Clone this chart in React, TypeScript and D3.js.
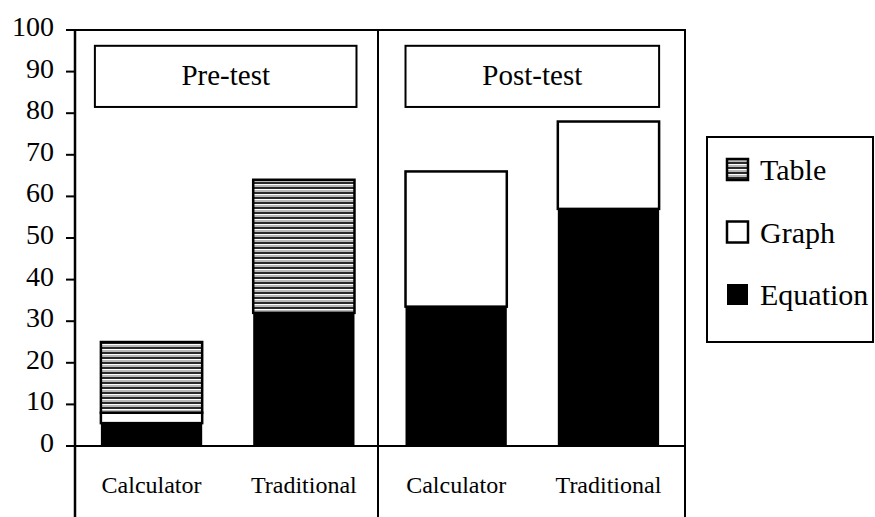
import React from "react";
import * as d3 from "d3";

// phases and groups
const phases = ["Pre-test", "Post-test"];
const groups = ["Calculator", "Traditional"];

// stacked values per bar (Pre Calc, Pre Trad, Post Calc, Post Trad)
const equationValues = [5.5, 32, 33.5, 57];
const graphValues = [2.5, 0, 32.5, 21];
const tableValues = [17, 32, 0, 0];

const yTicks = [0, 10, 20, 30, 40, 50, 60, 70, 80, 90, 100];
const legendItems = ["Table", "Graph", "Equation"];

const W = 875;
const H = 517;
const font = "Liberation Serif, Times New Roman, Times, DejaVu Serif, serif";

export default function App() {
  const left = 75;
  const right = 685;
  const top = 30;
  const base = 446;

  const keys = phases.flatMap((p) => groups.map((g) => `${p}|${g}`));
  const x = d3.scaleBand<string>().domain(keys).range([left, right]).paddingInner(0.335).paddingOuter(0.17);
  const y = d3.scaleLinear().domain([0, 100]).range([base, top]);
  const bw = x.bandwidth();
  const mid = 378;

  const rows = keys.map((k, i) => ({
    key: k,
    group: k.split("|")[1],
    segs: [
      { name: "Equation", v0: 0, v1: equationValues[i] },
      { name: "Graph", v0: equationValues[i], v1: equationValues[i] + graphValues[i] },
      {
        name: "Table",
        v0: equationValues[i] + graphValues[i],
        v1: equationValues[i] + graphValues[i] + tableValues[i],
      },
    ].filter((s) => s.v1 > s.v0),
  }));

  const fillFor = (n: string) => (n === "Equation" ? "#000" : n === "Graph" ? "#fff" : "url(#hatch)");
  const ts: React.CSSProperties = { fontFamily: font };

  return (
    <div style={{ position: "fixed", left: 0, top: 0, background: "#fff" }}>
      <svg width={W} height={H} style={{ display: "block", fontFamily: font }}>
        <defs>
          <pattern id="hatch" width={6} height={5} patternUnits="userSpaceOnUse">
            <rect width={6} height={5} fill="#fff" />
            <rect y={0} width={6} height={2} fill="#b8b8b8" />
            <rect y={2} width={6} height={2} fill="#2a2a2a" />
          </pattern>
        </defs>
        <rect width={W} height={H} fill="#fff" />

        {/* bars */}
        {rows.map((r) => (
          <g key={r.key}>
            {r.segs.map((s) => (
              <rect
                key={s.name}
                x={x(r.key)}
                y={y(s.v1)}
                width={bw}
                height={y(s.v0) - y(s.v1)}
                fill={fillFor(s.name)}
                stroke="#000"
                strokeWidth={s.name === "Equation" ? 0 : 2.5}
              />
            ))}
          </g>
        ))}

        {/* phase title boxes */}
        {phases.map((p, i) => {
          const x0 = x(`${p}|${groups[0]}`)! - (i === 0 ? 6 : 0);
          const x1 = x(`${p}|${groups[1]}`)! + bw + (i === 0 ? 2 : 0);
          return (
            <g key={p}>
              <rect x={x0} y={y(96.2)} width={x1 - x0} height={y(81.5) - y(96.2)} fill="#fff" stroke="#000" strokeWidth={2} />
              <text style={ts} x={(x0 + x1) / 2} y={(y(96.2) + y(81.5)) / 2 + 9} textAnchor="middle" fontSize={29}>
                {p}
              </text>
            </g>
          );
        })}

        {/* frame */}
        <line x1={left} x2={right} y1={top} y2={top} stroke="#000" strokeWidth={2} />
        <line x1={left} x2={left} y1={top - 1} y2={H} stroke="#000" strokeWidth={2.5} />
        <line x1={right} x2={right} y1={top - 1} y2={H} stroke="#000" strokeWidth={2} />
        <line x1={mid} x2={mid} y1={top} y2={H} stroke="#000" strokeWidth={2} />
        <line x1={left - 9} x2={right} y1={base} y2={base} stroke="#000" strokeWidth={2} />

        {/* y axis */}
        {yTicks.map((t) => (
          <g key={t}>
            <line x1={left - 9} x2={left} y1={y(t)} y2={y(t)} stroke="#000" strokeWidth={2} />
            <text style={ts} x={54} y={y(t) + 6} textAnchor="end" fontSize={28}>
              {t}
            </text>
          </g>
        ))}

        {/* category labels */}
        {rows.map((r) => (
          <text style={ts} key={r.key} x={x(r.key)! + bw / 2} y={493} textAnchor="middle" fontSize={24}>
            {r.group}
          </text>
        ))}

        {/* legend */}
        <rect x={707} y={137} width={166} height={205} fill="#fff" stroke="#000" strokeWidth={2} />
        {legendItems.map((n, i) => {
          const by = 180 + i * 62.5;
          return (
            <g key={n}>
              <rect
                x={727}
                y={by - 21}
                width={21}
                height={21}
                fill={fillFor(n)}
                stroke="#000"
                strokeWidth={n === "Equation" ? 0 : 2.5}
              />
              <text style={ts} x={760} y={by} fontSize={30}>
                {n}
              </text>
            </g>
          );
        })}
      </svg>
    </div>
  );
}
